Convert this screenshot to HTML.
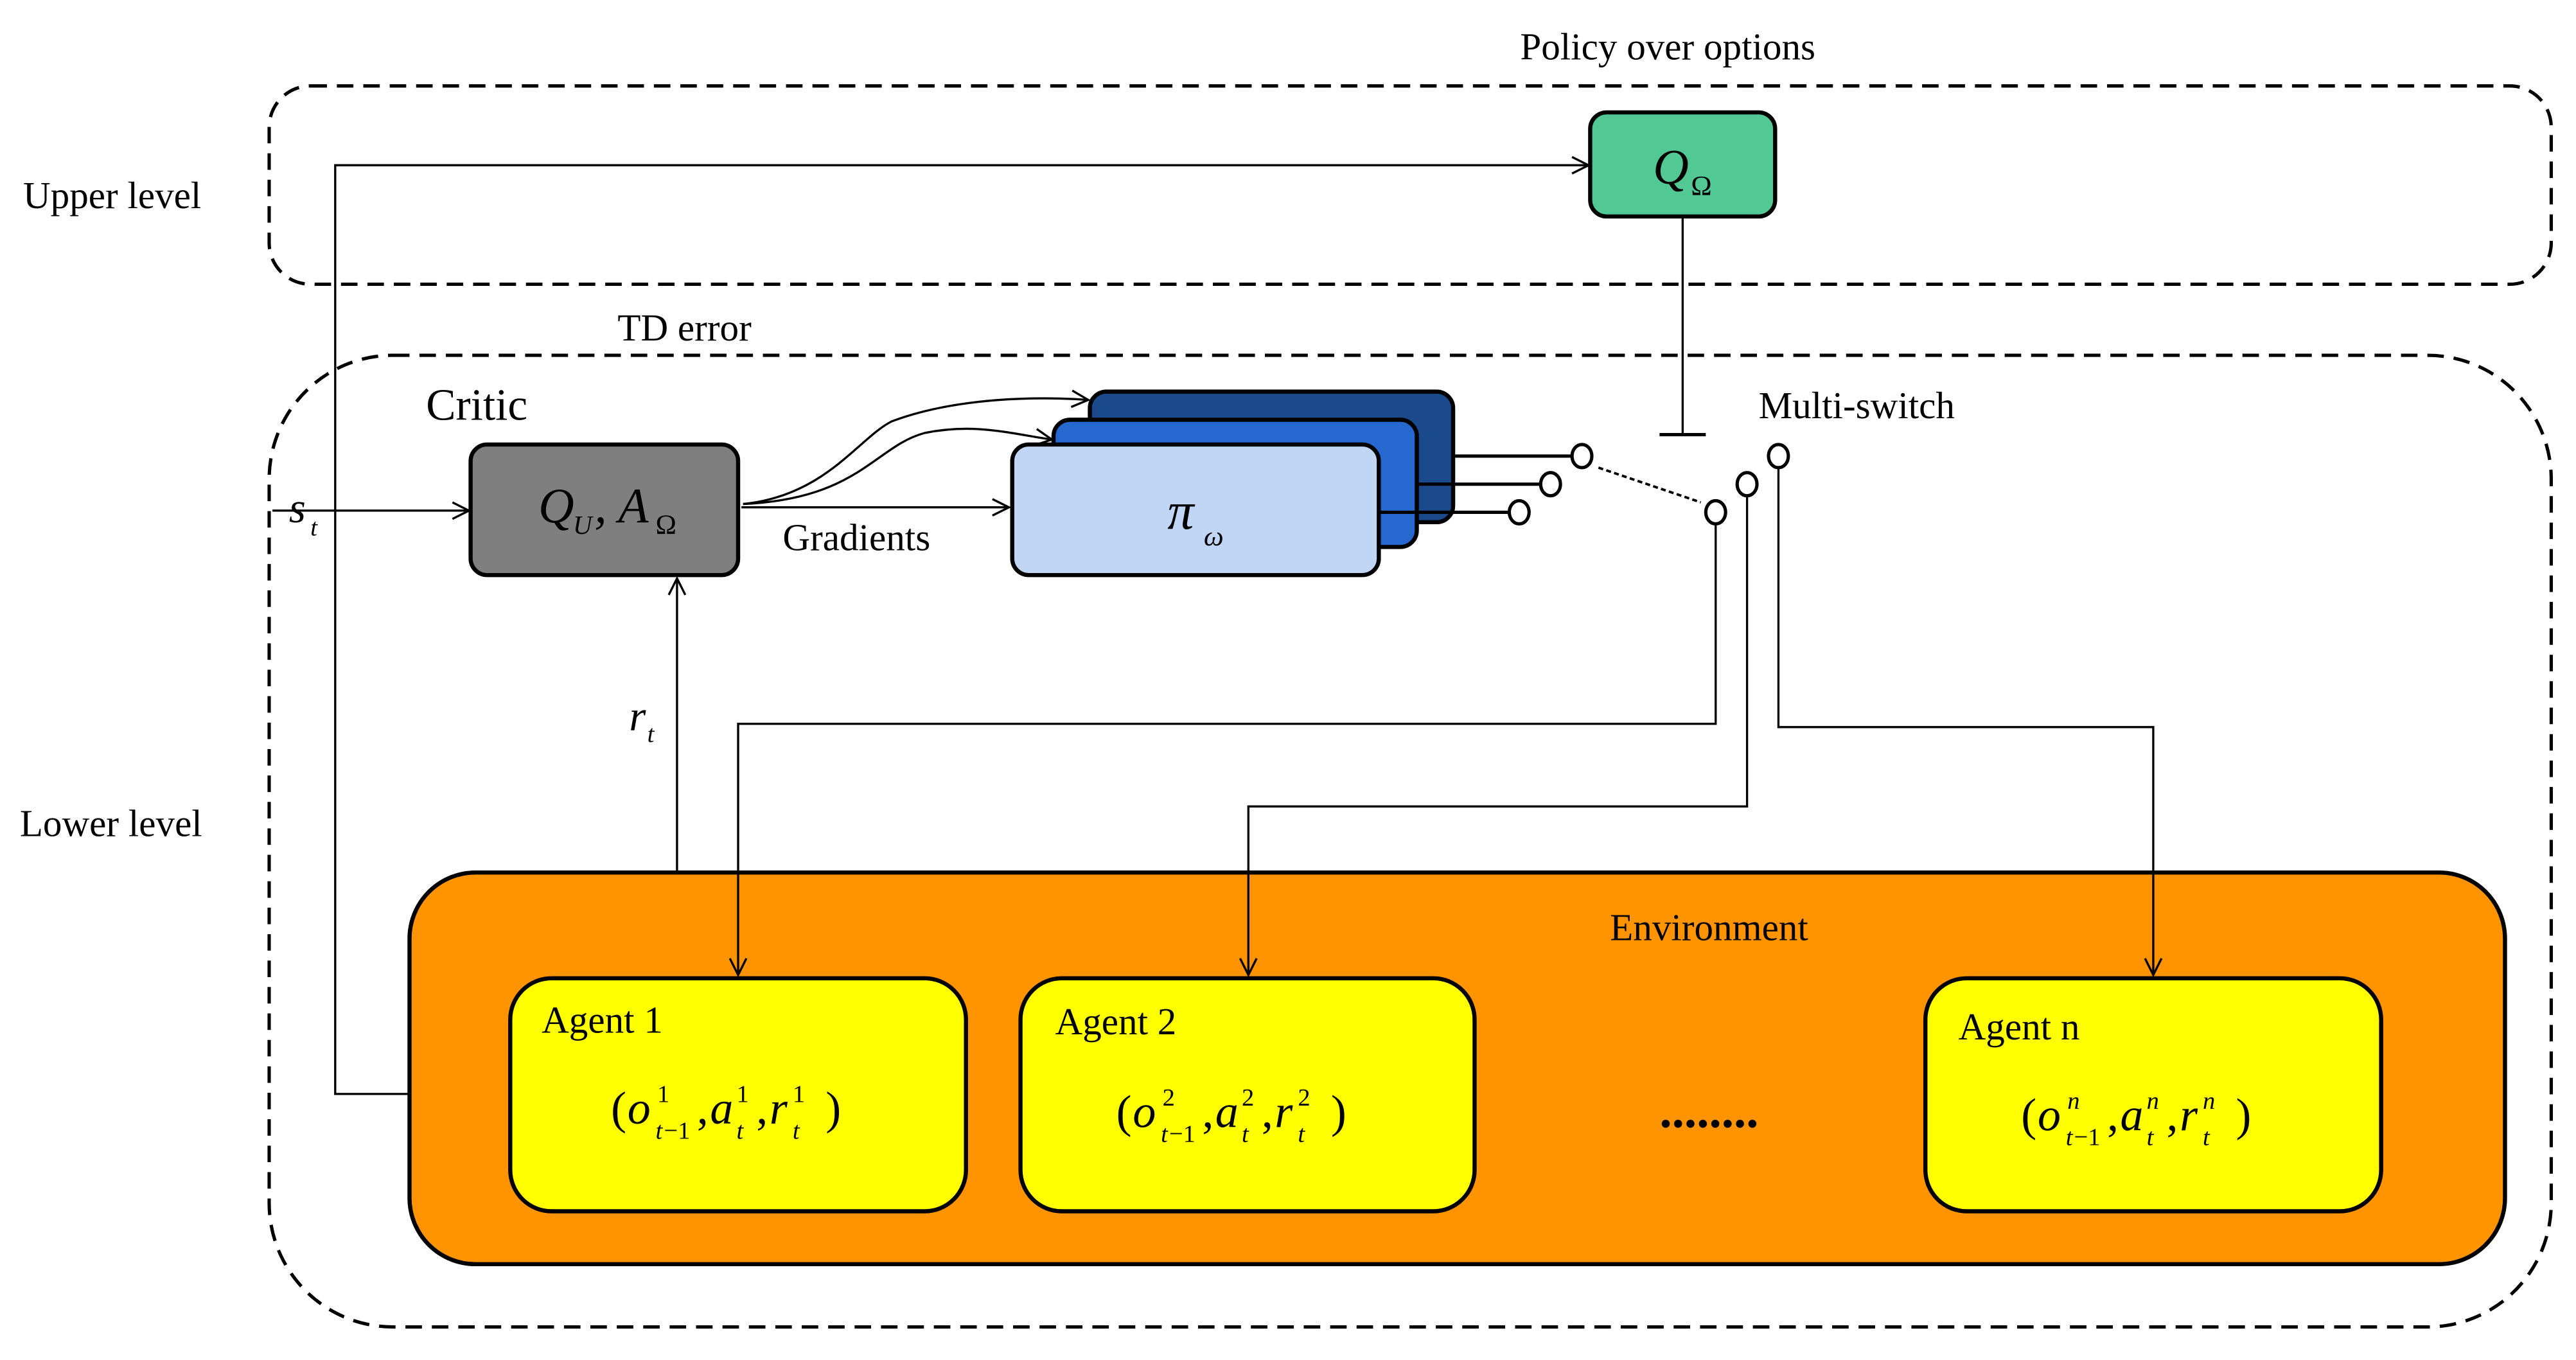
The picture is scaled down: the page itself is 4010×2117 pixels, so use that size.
<!DOCTYPE html>
<html><head><meta charset="utf-8"><style>
html,body{margin:0;padding:0;background:#fff}
svg{display:block}
text{font-family:"Liberation Serif",serif;fill:#000}
.i{font-style:italic}
</style></head><body>
<svg width="4010" height="2117" viewBox="0 0 1560 823" preserveAspectRatio="none" xmlns="http://www.w3.org/2000/svg">
<defs>
<marker id="a" viewBox="0 0 12 12" refX="11" refY="6" markerWidth="12" markerHeight="12" markerUnits="userSpaceOnUse" orient="auto">
<path d="M1,1 L11,6 L1,11" fill="none" stroke="#000" stroke-width="1.3"/>
</marker>
<g id="f">
<text x="0" y="0" font-size="28">(</text>
<text x="10" y="0" font-size="28" class="i">o</text>
<text x="52" y="0" font-size="28">,</text>
<text x="60" y="0" font-size="28" class="i">a</text>
<text x="88" y="0" font-size="28">,</text>
<text x="96" y="0" font-size="28" class="i">r</text>
<text x="130" y="0" font-size="28">)</text>
<text x="27" y="9" font-size="15" class="i">t</text><text x="32" y="9" font-size="15">−1</text>
<text x="76" y="9" font-size="15" class="i">t</text>
<text x="110" y="9" font-size="15" class="i">t</text>
</g>
</defs>
<g fill="none" stroke="#000" stroke-width="2" stroke-dasharray="10,6">
<rect x="163" y="52" width="1382" height="120" rx="25"/>
<rect x="163" y="215" width="1382" height="588" rx="75"/>
</g>
<text x="1010" y="36" font-size="23" text-anchor="middle">Policy over options</text>
<text x="14" y="126" font-size="23">Upper level</text>
<text x="12" y="506" font-size="23">Lower level</text>
<text x="374" y="206" font-size="23">TD error</text>
<text x="258" y="254" font-size="27">Critic</text>
<text x="1065" y="253" font-size="23">Multi-switch</text>

<rect x="963" y="68" width="112" height="63" rx="10" fill="#52C994" stroke="#000" stroke-width="2.5"/>
<text x="1001" y="111" font-size="30" class="i">Q</text><text x="1024" y="118" font-size="17">Ω</text>

<rect x="248" y="528" width="1269" height="237" rx="40" fill="#FF9400" stroke="#000" stroke-width="2.5"/>

<g stroke="#000" stroke-width="1.3" fill="none">
<line x1="1019" y1="131" x2="1019" y2="263"/>
<line x1="1005" y1="263" x2="1033" y2="263" stroke-width="2"/>
<polyline points="248,662 203,662 203,100 962,100" marker-end="url(#a)"/>
<line x1="165" y1="309" x2="284" y2="309" marker-end="url(#a)"/>
<line x1="449" y1="307" x2="611" y2="307" marker-end="url(#a)"/>
<path d="M450,305 C520,302 530,270 560,262 C590,256 610,262 637,266" marker-end="url(#a)"/>
<path d="M450,305 C500,300 520,265 540,255 C580,240 630,240 659,242" marker-end="url(#a)"/>
<line x1="410" y1="528" x2="410" y2="350" marker-end="url(#a)"/>
<polyline points="1039,316 1039,438 447,438 447,590" marker-end="url(#a)"/>
<polyline points="1058,299 1058,488 756,488 756,590" marker-end="url(#a)"/>
<polyline points="1077,282 1077,440 1304,440 1304,590" marker-end="url(#a)"/>
</g>
<rect x="285" y="269" width="162" height="79" rx="10" fill="#7F7F7F" stroke="#000" stroke-width="2.5"/>
<text x="326" y="316" font-size="30" class="i">Q</text><text x="347" y="323" font-size="16" class="i">U</text>
<text x="360" y="316" font-size="30" class="i">, A</text><text x="397" y="323" font-size="17">Ω</text>
<text x="474" y="333" font-size="23">Gradients</text>
<text x="175" y="316" font-size="26" class="i">s</text><text x="188" y="324" font-size="15" class="i">t</text>
<text x="381" y="442" font-size="26" class="i">r</text><text x="392" y="449" font-size="15" class="i">t</text>

<rect x="660" y="237" width="220" height="79" rx="10" fill="#1A4A8C" stroke="#000" stroke-width="2.5"/>
<rect x="638" y="254" width="220" height="77" rx="10" fill="#2468D0" stroke="#000" stroke-width="2.5"/>
<rect x="613" y="269" width="222" height="79" rx="10" fill="#C0D6F4" stroke="#000" stroke-width="2.5"/>
<text x="707" y="320" font-size="32" class="i">π</text><text x="729" y="330" font-size="17" class="i">ω</text>

<g stroke="#000" stroke-width="2" fill="#fff">
<line x1="880" y1="276" x2="952" y2="276"/>
<line x1="858" y1="293" x2="933" y2="293"/>
<line x1="835" y1="310" x2="915" y2="310"/>
<ellipse cx="958" cy="276" rx="6" ry="7"/>
<ellipse cx="939" cy="293" rx="6" ry="7"/>
<ellipse cx="920" cy="310" rx="6" ry="7"/>
<ellipse cx="1039" cy="310" rx="6" ry="7"/>
<ellipse cx="1058" cy="293" rx="6" ry="7"/>
<ellipse cx="1077" cy="276" rx="6" ry="7"/>
<line x1="968" y1="283" x2="1030" y2="304" stroke-width="1.5" stroke-dasharray="3,2"/>
</g>

<text x="1035" y="569" font-size="23" text-anchor="middle">Environment</text>
<g fill="#FFFF00" stroke="#000" stroke-width="2.5">
<rect x="309" y="592" width="276" height="141" rx="25"/>
<rect x="618" y="592" width="275" height="141" rx="25"/>
<rect x="1166" y="592" width="276" height="141" rx="25"/>
</g>
<text x="328" y="625" font-size="23">Agent 1</text>
<text x="639" y="626" font-size="23">Agent 2</text>
<text x="1186" y="629" font-size="23">Agent n</text>

<g transform="translate(370,680)">
<use href="#f"/>
<text x="28" y="-13" font-size="15">1</text><text x="76" y="-13" font-size="15">1</text><text x="110" y="-13" font-size="15">1</text>
</g>
<g transform="translate(676,682)">
<use href="#f"/>
<text x="28" y="-13" font-size="15">2</text><text x="76" y="-13" font-size="15">2</text><text x="110" y="-13" font-size="15">2</text>
</g>
<g transform="translate(1224,684)">
<use href="#f"/>
<text x="28" y="-13" font-size="15" class="i">n</text><text x="76" y="-13" font-size="15" class="i">n</text><text x="110" y="-13" font-size="15" class="i">n</text>
</g>
<text x="1035" y="682" font-size="30" font-weight="bold" text-anchor="middle">........</text>
</svg>
</body></html>
